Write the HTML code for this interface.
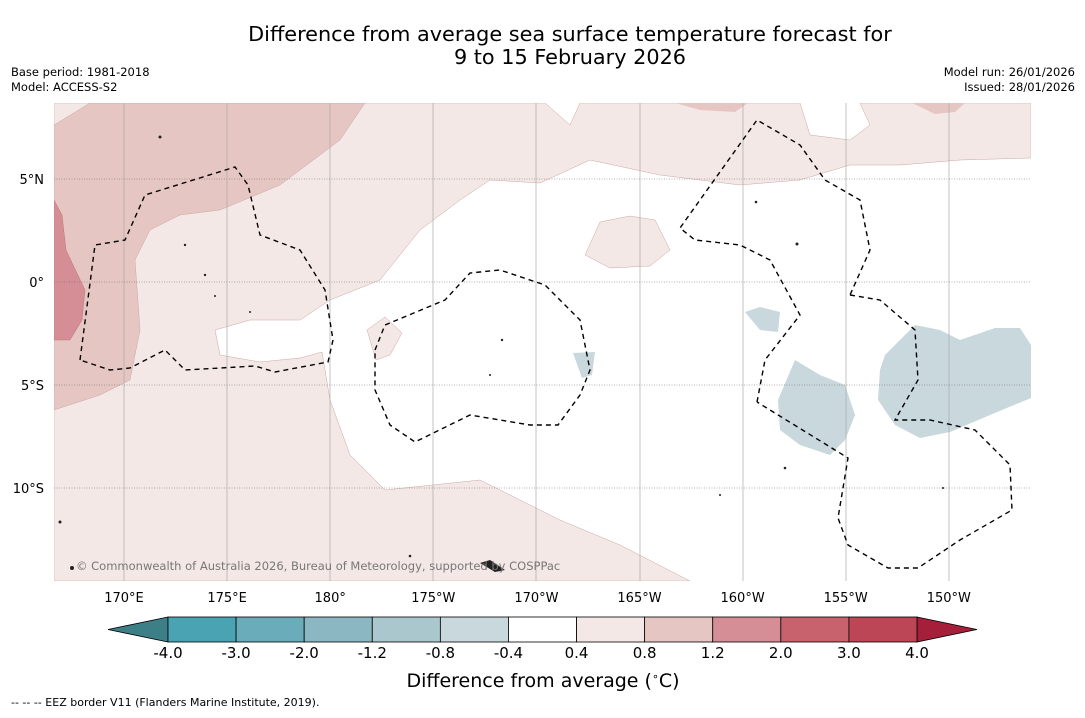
<!DOCTYPE html>
<html><head><meta charset="utf-8"><style>
body{margin:0;background:#fff;font-family:"Liberation Sans","DejaVu Sans",sans-serif}
svg text{font-family:"DejaVu Sans","Liberation Sans",sans-serif}
</style></head><body>
<svg width="1085" height="713" viewBox="0 0 1085 713" xmlns="http://www.w3.org/2000/svg">
<rect width="1085" height="713" fill="#fff"/>
<text x="570" y="41" font-size="20.8" text-anchor="middle">Difference from average sea surface temperature forecast for</text>
<text x="570" y="64" font-size="20.8" text-anchor="middle">9 to 15 February 2026</text>
<text x="11" y="76" font-size="11.5">Base period: 1981-2018</text>
<text x="11" y="91" font-size="11.5">Model: ACCESS-S2</text>
<text x="1075" y="76" font-size="11.5" text-anchor="end">Model run: 26/01/2026</text>
<text x="1075" y="91" font-size="11.5" text-anchor="end">Issued: 28/01/2026</text>
<g id="map">
<clipPath id="mc"><rect x="54" y="103" width="977" height="478"/></clipPath>
<g clip-path="url(#mc)">
<path fill="#f4e8e6" stroke="#c9a7a4" stroke-width="0.5" d="M54,103 L545,103 L570,125 L580,103 L800,103 L810,135 L850,140 L870,125 L860,103 L1031,103 L1031,158 L960,160 L900,165 L850,165 L800,180 L740,185 L660,175 L590,160 L540,183 L490,180 L460,200 L420,230 L380,280 L330,300 L300,320 L250,320 L215,330 L220,355 L260,362 L300,358 L322,352 L330,400 L350,455 L385,490 L480,480 L560,520 L620,545 L690,581 L54,581 Z"/>
<path fill="#e6c6c2" stroke="#c9a7a4" stroke-width="0.5" d="M54,125 L90,103 L365,103 L340,140 L320,155 L280,185 L220,210 L180,215 L150,230 L135,260 L140,330 L130,380 L100,395 L54,410 Z"/>
<path fill="#d58e95" stroke="#b77" stroke-width="0.5" d="M54,200 L62,215 L66,250 L85,290 L82,320 L70,340 L54,340 Z"/>
<path fill="#e6c6c2" d="M675,103 L748,103 L735,112 L700,110 Z"/>
<path fill="#e6c6c2" d="M912,103 L965,103 L955,112 L935,114 Z"/>
<path fill="#f4e8e6" stroke="#c9a7a4" stroke-width="0.5" d="M600,222 L630,216 L655,220 L670,250 L650,266 L610,268 L585,255 Z"/>
<path fill="#f4e8e6" stroke="#c9a7a4" stroke-width="0.5" d="M367,330 L385,317 L402,333 L390,355 L376,360 Z"/>
<g fill="#c8d8dc">
<path d="M745,312 L760,307 L780,312 L778,332 L760,330 Z"/>
<path d="M573,353 L595,352 L592,375 L582,378 Z"/>
<path d="M795,360 L820,375 L845,385 L855,415 L845,440 L830,455 L800,445 L780,430 L778,400 Z"/>
<path d="M885,355 L915,325 L940,330 L960,340 L995,328 L1020,328 L1031,345 L1031,398 L990,415 L950,432 L920,438 L895,425 L878,400 L880,370 Z"/>
</g>
<g stroke="#aaa" stroke-width="0.7">
<line x1="124" y1="103" x2="124" y2="581"/><line x1="227" y1="103" x2="227" y2="581"/><line x1="330" y1="103" x2="330" y2="581"/><line x1="433" y1="103" x2="433" y2="581"/><line x1="536" y1="103" x2="536" y2="581"/><line x1="640" y1="103" x2="640" y2="581"/><line x1="743" y1="103" x2="743" y2="581"/><line x1="846" y1="103" x2="846" y2="581"/><line x1="949" y1="103" x2="949" y2="581"/>
</g>
<g stroke="#666" stroke-width="0.6" stroke-dasharray="1,1.5">
<line x1="54" y1="179" x2="1031" y2="179"/><line x1="54" y1="282" x2="1031" y2="282"/><line x1="54" y1="385" x2="1031" y2="385"/><line x1="54" y1="488" x2="1031" y2="488"/>
</g>
<g fill="none" stroke="#000" stroke-width="1.4" stroke-dasharray="5,4">
<path d="M80,360 L95,245 L125,240 L145,195 L235,167 L248,185 L260,235 L300,250 L325,290 L333,340 L328,362 L275,372 L255,366 L185,370 L165,350 L130,368 L110,370 Z"/>
<path d="M375,350 L385,325 L445,300 L470,273 L500,270 L545,285 L580,320 L590,370 L580,395 L558,425 L530,425 L470,415 L415,442 L390,425 L375,390 Z"/>
<path d="M757,402 L765,360 L800,315 L770,260 L740,245 L695,240 L680,228 L757,120 L800,145 L825,180 L860,200 L870,250 L850,295"/>
<path d="M850,295 L880,300 L915,330 L918,380 L895,420 L930,420 L975,430 L1010,465 L1012,510 L960,540 L918,568 L888,568 L848,545 L838,518 L848,458 L757,402"/>
</g>
<g fill="#222">
<circle cx="160" cy="137" r="1.5"/><circle cx="185" cy="245" r="1.2"/><circle cx="205" cy="275" r="1.2"/><circle cx="215" cy="296" r="1"/><circle cx="250" cy="312" r="1"/><circle cx="502" cy="340" r="1.2"/><circle cx="490" cy="375" r="1"/><circle cx="756" cy="202" r="1.3"/><circle cx="797" cy="244" r="1.5"/><circle cx="720" cy="495" r="1"/><circle cx="60" cy="522" r="1.5"/><circle cx="72" cy="568" r="2"/><path d="M480,563 L490,560 L505,570 L495,572 Z"/><circle cx="410" cy="556" r="1.3"/><circle cx="785" cy="468" r="1.3"/><circle cx="943" cy="488" r="1"/>
</g>
<text x="76" y="570" font-size="11.5" fill="#777">© Commonwealth of Australia 2026, Bureau of Meteorology, supported by COSPPac</text>
</g>
</g>
<g id="lat" font-size="13" text-anchor="end"></g>
<g id="lon" font-size="13" text-anchor="middle"></g>
<g id="cbar"></g>
<text x="543" y="687" font-size="19" text-anchor="middle">Difference from average (<tspan font-size="11" dy="-7">∘</tspan><tspan dy="7">C)</tspan></text>
<text x="11" y="706" font-size="11">-- -- -- EEZ border V11 (Flanders Marine Institute, 2019).</text>
</svg>
<script>
const latLabels=["5°N","0°","5°S","10°S"];
const latValues=[5,0,-5,-10];
const lonLabels=["170°E","175°E","180°","175°W","170°W","165°W","160°W","155°W","150°W"];
const lonValues=[170,175,180,185,190,195,200,205,210];
const levelLabels=["-4.0","-3.0","-2.0","-1.2","-0.8","-0.4","0.4","0.8","1.2","2.0","3.0","4.0"];
const levelColors=["#4aa3b3","#6aacb9","#8bb7c2","#a9c7cd","#c8d8dc","#ffffff","#f4e8e6","#e6c6c2","#d58e95","#c8626c","#bc4556"];
const ns="http://www.w3.org/2000/svg";
const xLon=l=>124+(l-170)*20.62;
const yLat=l=>282-l*20.6;
const latG=document.getElementById('lat');
latLabels.forEach((t,i)=>{const e=document.createElementNS(ns,'text');


e.setAttribute('x',44);e.setAttribute('y',yLat(latValues[i])+5);e.textContent=t;latG.appendChild(e);});
const lonG=document.getElementById('lon');
lonLabels.forEach((t,i)=>{const e=document.createElementNS(ns,'text');


e.setAttribute('x',xLon(lonValues[i]));e.setAttribute('y',602);e.textContent=t;lonG.appendChild(e);});
const cb=document.getElementById('cbar');
const x0=168,x1=917,w=(x1-x0)/levelColors.length,y0=617,h=25;
const tl=document.createElementNS(ns,'path');


tl.setAttribute('d',`M${x0},${y0} L108,${y0+h/2} L${x0},${y0+h} Z`);tl.setAttribute('fill','#3d7f87');tl.setAttribute('stroke','#000');tl.setAttribute('stroke-width','0.8');cb.appendChild(tl);
const tr=document.createElementNS(ns,'path');


tr.setAttribute('d',`M${x1},${y0} L977,${y0+h/2} L${x1},${y0+h} Z`);tr.setAttribute('fill','#a51e3a');tr.setAttribute('stroke','#000');tr.setAttribute('stroke-width','0.8');cb.appendChild(tr);
levelColors.forEach((c,i)=>{const r=document.createElementNS(ns,'rect');


r.setAttribute('x',x0+i*w);r.setAttribute('y',y0);r.setAttribute('width',w);r.setAttribute('height',h);r.setAttribute('fill',c);r.setAttribute('stroke','#000');r.setAttribute('stroke-width','0.8');cb.appendChild(r);});
levelLabels.forEach((t,i)=>{const e=document.createElementNS(ns,'text');


e.setAttribute('x',x0+i*w);e.setAttribute('y',658);e.setAttribute('font-size','15');e.setAttribute('text-anchor','middle');e.textContent=t;cb.appendChild(e);});
</script>
</body></html>
